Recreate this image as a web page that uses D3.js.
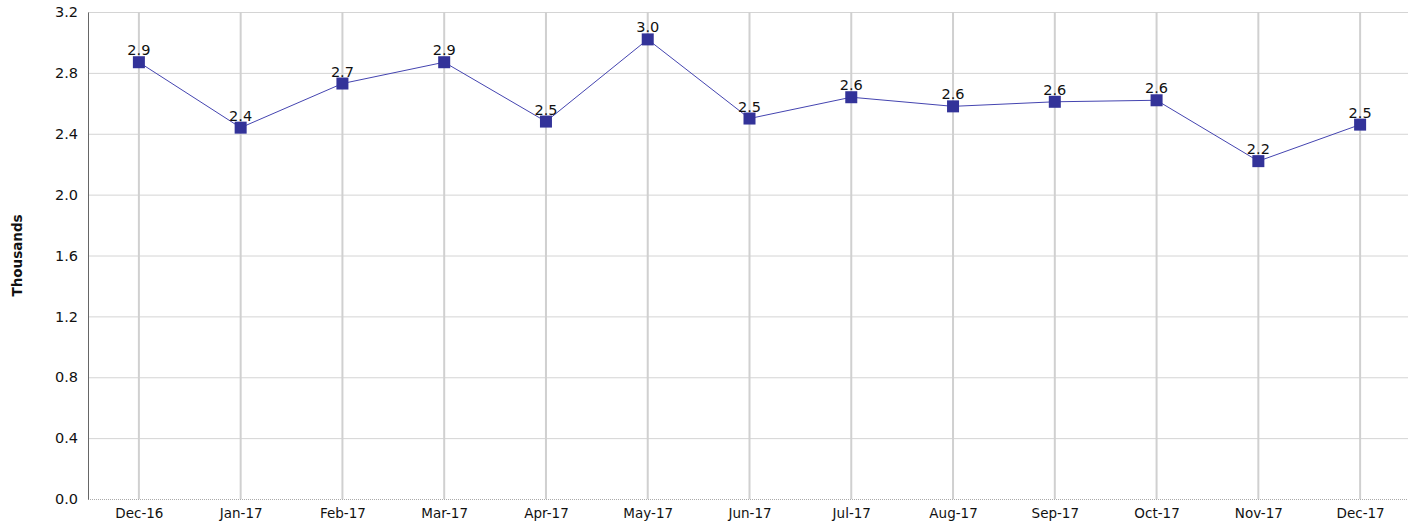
<!DOCTYPE html>
<html>
<head>
<meta charset="utf-8">
<script src="https://cdn.jsdelivr.net/npm/d3@7"></script>
<style>
  html, body { margin: 0; padding: 0; background: #fff; }
  svg { display: block; font-family: "DejaVu Sans", Verdana, sans-serif; }
</style>
</head>
<body>
<svg id="chart" width="1416" height="529"></svg>
<script>
// Monthly values, in thousands
const months = ["Dec-16", "Jan-17", "Feb-17", "Mar-17", "Apr-17", "May-17", "Jun-17",
                "Jul-17", "Aug-17", "Sep-17", "Oct-17", "Nov-17", "Dec-17"];
const values = [2.87, 2.44, 2.73, 2.87, 2.48, 3.02, 2.50, 2.64, 2.58, 2.61, 2.62, 2.22, 2.46];
const yTicks = [0, 0.4, 0.8, 1.2, 1.6, 2.0, 2.4, 2.8, 3.2];
const yTitle = "Thousands";

const svg = d3.select("#chart");
const margin = { top: 12, right: 5, bottom: 30, left: 88 };
const W = 1416, H = 529;
const innerW = W - margin.left - margin.right;
const innerH = H - margin.top - margin.bottom;

const g = svg.append("g").attr("transform", `translate(${margin.left},${margin.top})`);

const x = d3.scalePoint().domain(months).range([0, innerW]).padding(0.5);
const y = d3.scaleLinear().domain([0, 3.2]).range([innerH, 0]);

// Horizontal grid
g.append("g")
  .selectAll("line")
  .data(yTicks.filter(d => d > 0))
  .join("line")
  .attr("x1", 0).attr("x2", innerW - 3)
  .attr("y1", d => y(d) + 0.5).attr("y2", d => y(d) + 0.5)
  .attr("stroke", "#d4d4d4").attr("stroke-width", 1);

// Vertical grid at each month
g.append("g")
  .selectAll("line")
  .data(months)
  .join("line")
  .attr("x1", d => x(d)).attr("x2", d => x(d))
  .attr("y1", 0).attr("y2", innerH)
  .attr("stroke", "#d0d0d0").attr("stroke-width", 2);

// Bottom axis line (dotted)
g.append("line")
  .attr("x1", 0).attr("x2", innerW - 3)
  .attr("y1", innerH + 0.5).attr("y2", innerH + 0.5)
  .attr("stroke", "#aaa").attr("stroke-dasharray", "1,1");

// Left axis
const yAxis = g.append("g")
  .call(d3.axisLeft(y).tickValues(yTicks).tickFormat(d3.format(".1f")).tickSize(0).tickPadding(10));
yAxis.select(".domain").attr("stroke", "#666").attr("stroke-width", 1);
yAxis.selectAll("text").attr("font-size", 14.5).attr("fill", "#111")
  .attr("font-family", "DejaVu Sans, Verdana, sans-serif");

// Bottom axis labels
const xAxis = g.append("g")
  .attr("transform", `translate(0,${innerH})`)
  .call(d3.axisBottom(x).tickSize(0).tickPadding(9));
xAxis.select(".domain").remove();
xAxis.selectAll("text").attr("font-size", 13.5).attr("fill", "#111")
  .attr("font-family", "DejaVu Sans, Verdana, sans-serif");

// Y title
svg.append("text")
  .attr("transform", `translate(22,${margin.top + innerH / 2}) rotate(-90)`)
  .attr("text-anchor", "middle")
  .attr("font-size", 13.5).attr("font-weight", "bold").attr("fill", "#111")
  .text(yTitle);

// Series line
const line = d3.line().x((d, i) => x(months[i])).y(d => y(d));
g.append("path")
  .datum(values)
  .attr("d", line)
  .attr("fill", "none")
  .attr("stroke", "#4444b0").attr("stroke-width", 1);

// Square markers
const ms = 12;
g.append("g")
  .selectAll("rect")
  .data(values)
  .join("rect")
  .attr("x", (d, i) => x(months[i]) - ms / 2)
  .attr("y", d => y(d) - ms / 2)
  .attr("width", ms).attr("height", ms)
  .attr("fill", "#333399");

// Value labels
g.append("g")
  .selectAll("text")
  .data(values)
  .join("text")
  .attr("x", (d, i) => x(months[i]))
  .attr("y", d => y(d) - 7)
  .attr("text-anchor", "middle")
  .attr("font-size", 14.5).attr("fill", "#111")
  .text(d => d.toFixed(1));
</script>
</body>
</html>
